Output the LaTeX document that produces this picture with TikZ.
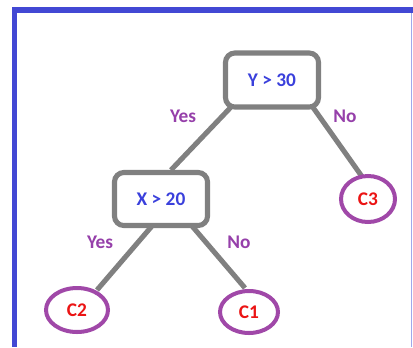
\documentclass[tikz,border=0pt]{standalone}
\usepackage{fontspec}
\setmainfont{Carlito}
\usetikzlibrary{shapes.geometric}
\definecolor{frameblue}{RGB}{66,72,212}
\definecolor{framelight}{RGB}{160,168,235}
\definecolor{edgegray}{RGB}{128,128,128}
\definecolor{leafpurple}{RGB}{160,72,168}
\definecolor{lblpurple}{RGB}{150,64,170}
\definecolor{txtblue}{RGB}{58,64,220}
\definecolor{txtred}{RGB}{235,20,20}
\begin{document}
\begin{tikzpicture}[x=0.75pt,y=-0.75pt,
  bigfont/.style={font=\fontsize{14.5pt}{17pt}\selectfont\bfseries},
  testbox/.style={draw=edgegray,line width=3.8pt,rounded corners=7pt,fill=white,
    text=txtblue,bigfont,inner sep=0pt,minimum width=69.75pt},
  leaf/.style={draw=leafpurple,line width=3pt,ellipse,inner sep=0pt,fill=white,
    text=txtred,bigfont},
  edge/.style={draw=edgegray,line width=3.8pt},
  lbl/.style={text=lblpurple,bigfont,inner sep=0pt}]
\useasboundingbox (0,0) rectangle (413,347);
\fill[white] (0,0) rectangle (413,347);
% frame
\fill[frameblue] (12,7) rectangle (17,347);
\fill[frameblue] (12,7) rectangle (413,13);
\draw[framelight,line width=0.9pt] (411.5,13) -- (411.5,347);
% edge end points
\coordinate (a1) at (232,106);
\coordinate (a2) at (312,106);
\coordinate (b1) at (152,226);
\coordinate (b2) at (192,226);
\coordinate (e1) at (171,170);
\coordinate (e2) at (363,178);
\coordinate (e3) at (97,290);
\coordinate (e4) at (245,288);
\draw[edge] (a1) -- (e1);
\draw[edge] (a2) -- (e2);
\draw[edge] (b1) -- (e3);
\draw[edge] (b2) -- (e4);
% nodes
\node[testbox,minimum height=40.5pt] (y30) at (272,80) {Y > 30};
\node[testbox,minimum height=39.75pt] (x20) at (161,199) {X > 20};
\node[leaf,minimum width=40.5pt,minimum height=34.5pt] (c3) at (368,199) {C3};
\node[leaf,minimum width=46.5pt,minimum height=33pt] (c2) at (77,310) {C2};
\node[leaf,minimum width=43.5pt,minimum height=31.5pt] (c1) at (249,312) {C1};
% labels
\node[lbl] (l1) at (183,116) {Yes};
\node[lbl] (l2) at (345,116) {No};
\node[lbl] (l3) at (100,242) {Yes};
\node[lbl] (l4) at (239,242) {No};
\end{tikzpicture}
\end{document}
